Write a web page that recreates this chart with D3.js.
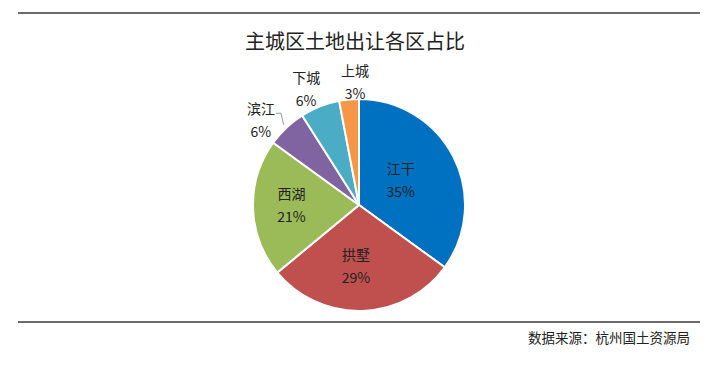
<!DOCTYPE html>
<html>
<head>
<meta charset="utf-8">
<script src="https://cdn.jsdelivr.net/npm/d3@7"></script>
<style>
  body { margin: 0; background: #fff; }
  svg { display: block; font-family: "Noto Sans CJK SC", "Noto Sans", sans-serif; }
</style>
</head>
<body>
<svg id="chart"></svg>
<script>
const categories = ['江干', '拱墅', '西湖', '滨江', '下城', '上城']
const shares = [35, 29, 21, 6, 6, 3]
const colors = ['#0070C0', '#C0504D', '#9BBB59', '#8064A2', '#4BACC6', '#F79646']
const title = '主城区土地出让各区占比'
const source = '数据来源：杭州国土资源局'

const width = 719
const height = 371
const cx = 359
const cy = 205
const radius = 106

// label placement tweaks (like Excel's data label layout), keyed by category
const labelNudge = {
    '江干': [-13, 3],
    '拱墅': [-5, 0],
    '西湖': [-6, -2],
    '滨江': [-11, 8],
    '下城': [-6, 2],
    '上城': [8, 4]
}

const svg = d3.select('#chart')
    .attr('width', width)
    .attr('height', height)

// rules above and below
svg.append('line')
    .attr('x1', 18).attr('x2', 700)
    .attr('y1', 13).attr('y2', 13)
    .attr('stroke', '#6b6b6b')
    .attr('stroke-width', 2)

svg.append('line')
    .attr('x1', 18).attr('x2', 700)
    .attr('y1', 322).attr('y2', 322)
    .attr('stroke', '#6b6b6b')
    .attr('stroke-width', 2)

svg.append('text')
    .attr('x', 355)
    .attr('y', 49)
    .attr('text-anchor', 'middle')
    .attr('font-size', '20px')
    .attr('fill', '#222')
    .text(title)

svg.append('text')
    .attr('x', 690)
    .attr('y', 342.5)
    .attr('text-anchor', 'end')
    .attr('font-size', '13.5px')
    .attr('fill', '#222')
    .text(source)

const data = categories.map((name, i) => ({ name, value: shares[i], color: colors[i] }))

const pie = d3.pie()
    .value(d => d.value)
    .sort(null)

const arcs = pie(data)

const arc = d3.arc()
    .innerRadius(0)
    .outerRadius(radius)

const g = svg.append('g')
    .attr('transform', `translate(${cx},${cy})`)

g.selectAll('path')
    .data(arcs)
    .enter().append('path')
    .attr('d', arc)
    .attr('fill', d => d.data.color)
    .attr('stroke', '#fff')
    .attr('stroke-width', 2)

// inside labels for big slices, outside for small ones
const innerArc = d3.arc().innerRadius(radius * 1.16).outerRadius(0)
const outerArc = d3.arc().innerRadius(radius * 2.4).outerRadius(0)

const labelPos = d => {
    const big = d.data.value > 10
    const p = (big ? innerArc : outerArc).centroid(d)
    const n = labelNudge[d.data.name] || [0, 0]
    return [p[0] + n[0], p[1] + n[1]]
}

const label = g.selectAll('g.label')
    .data(arcs)
    .enter().append('g')
    .attr('class', 'label')
    .attr('transform', d => {
        const [x, y] = labelPos(d)
        return `translate(${x},${y})`
    })

label.append('text')
    .attr('text-anchor', 'middle')
    .attr('font-size', '14px')
    .attr('fill', '#222')
    .attr('y', -6)
    .text(d => d.data.name)

label.append('text')
    .attr('text-anchor', 'middle')
    .attr('font-size', '14px')
    .attr('fill', '#222')
    .attr('y', 17)
    .text(d => d.data.value + '%')

// small leader line for 滨江
const lead = arcs.find(d => d.data.name === '滨江')
const edge = d3.arc().innerRadius((radius + 4) * 2).outerRadius(0).centroid(lead)
const lp = labelPos(lead)
g.append('polyline')
    .attr('points', `${lp[0] + 15},${lp[1] - 7} ${lp[0] + 20},${lp[1] - 7} ${edge[0]},${edge[1]}`)
    .attr('fill', 'none')
    .attr('stroke', '#999')
    .attr('stroke-width', 1)
</script>
</body>
</html>
